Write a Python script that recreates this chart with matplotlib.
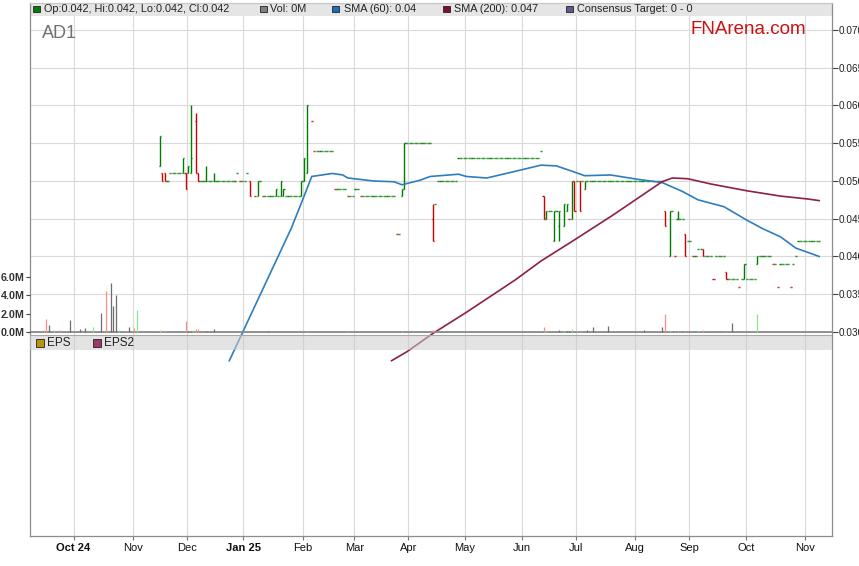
import numpy as np
import matplotlib
matplotlib.use("Agg")
import matplotlib.pyplot as plt
from matplotlib.collections import LineCollection
from matplotlib.patches import Rectangle

plt.rcParams['font.family'] = ['Liberation Sans', 'DejaVu Sans']

# ---- AD1 daily bars (x axis counts weekdays) ----
bar_dates = ['2024-11-15', '2024-11-18', '2024-11-19', '2024-11-28', '2024-11-29', '2024-12-02',
             '2024-12-03', '2024-12-05', '2024-12-06', '2024-12-11', '2024-12-16', '2025-01-03',
             '2025-01-08', '2025-01-17', '2025-01-21', '2025-01-22', '2025-01-31', '2025-02-03',
             '2025-02-04', '2025-03-27', '2025-03-28', '2025-04-14', '2025-06-12', '2025-06-13',
             '2025-06-18', '2025-06-20', '2025-06-24', '2025-06-25', '2025-06-27', '2025-06-30',
             '2025-07-02', '2025-07-04', '2025-08-18', '2025-08-20', '2025-08-25', '2025-08-28',
             '2025-09-08', '2025-09-19', '2025-09-30', '2025-10-07']
bar_open = [.052, .051, .051, .051, .051, .051, .051, .058, .051, .050, .050, .050,
            .048, .048, .048, .048, .048, .050, .051, .048, .049, .045, .048, .045,
            .042, .044, .044, .046, .045, .050, .050, .049, .046, .040, .045, .043,
            .041, .038, .037, .039]
bar_high = [.056, .051, .051, .053, .051, .052, .060, .059, .051, .052, .051, .050,
            .050, .049, .050, .049, .050, .053, .060, .049, .055, .047, .048, .046,
            .046, .046, .047, .047, .050, .050, .050, .050, .046, .046, .046, .043,
            .041, .038, .039, .040]
bar_low = [.052, .050, .050, .051, .049, .051, .051, .051, .050, .050, .050, .048,
           .048, .048, .048, .048, .048, .050, .051, .048, .049, .042, .045, .045,
           .042, .042, .044, .046, .045, .046, .046, .049, .044, .040, .045, .040,
           .040, .037, .037, .039]
bar_close = [.056, .050, .050, .053, .049, .052, .053, .051, .050, .050, .050, .048,
             .050, .049, .050, .049, .050, .053, .060, .049, .055, .042, .045, .046,
             .046, .046, .047, .047, .050, .046, .046, .050, .044, .046, .045, .040,
             .040, .037, .039, .040]
bar_up = [1, 0, 0, 1, 0, 1, 1, 0, 0, 1, 1, 0,
          1, 1, 1, 1, 1, 1, 1, 1, 1, 0, 0, 1,
          1, 1, 1, 1, 1, 0, 0, 1, 0, 1, 1, 0,
          0, 0, 1, 1]

# single days with no range (open = high = low = close)
flat_dates = ['2024-11-20', '2024-12-27', '2024-12-30', '2025-01-02', '2025-01-07', '2025-01-09',
              '2025-01-10', '2025-02-06', '2025-02-07', '2025-02-19', '2025-02-26', '2025-03-05',
              '2025-03-25', '2025-03-26', '2025-04-15', '2025-06-11', '2025-06-19', '2025-06-26',
              '2025-07-01', '2025-07-03', '2025-08-21', '2025-08-22', '2025-09-02', '2025-09-03',
              '2025-09-12', '2025-09-26', '2025-10-15', '2025-10-17', '2025-10-24', '2025-10-28']
flat_price = [.050, .051, .050, .051, .048, .050, .048, .058, .054, .049, .048, .048,
              .043, .043, .047, .054, .046, .045, .050, .050, .046, .040, .040, .040,
              .037, .036, .039, .036, .036, .040]
flat_up = [1, 1, 0, 1, 0, 1, 0, 0, 0, 0, 0, 0,
           0, 1, 1, 1, 1, 0, 1, 1, 1, 0, 0, 1,
           0, 0, 0, 0, 0, 1]

# stretches of unchanged price
run_start = ['2024-11-21', '2024-12-09', '2024-12-31', '2025-01-13', '2025-01-20', '2025-01-23',
             '2025-02-10', '2025-02-20', '2025-02-27', '2025-03-03', '2025-03-06', '2025-03-31',
             '2025-04-16', '2025-04-28', '2025-06-16', '2025-07-07', '2025-08-26', '2025-08-29',
             '2025-09-04', '2025-09-09', '2025-09-22', '2025-10-01', '2025-10-08', '2025-10-16',
             '2025-10-29']
run_end = ['2024-11-27', '2024-12-26', '2025-01-01', '2025-01-16', '2025-01-20', '2025-01-30',
           '2025-02-18', '2025-02-25', '2025-02-28', '2025-03-04', '2025-03-24', '2025-04-11',
           '2025-04-25', '2025-06-10', '2025-06-17', '2025-08-15', '2025-08-27', '2025-09-01',
           '2025-09-05', '2025-09-18', '2025-09-29', '2025-10-06', '2025-10-14', '2025-10-27',
           '2025-11-10']
run_price = [.051, .050, .050, .048, .048, .048, .054, .049, .048, .049, .048, .055,
             .050, .053, .046, .050, .045, .042, .041, .040, .037, .037, .040, .039,
             .042]

# volume (millions); kind: u = up, d = down, n = unchanged
vol_dates = ['2024-09-13', '2024-09-16', '2024-09-17', '2024-09-19', '2024-09-23', '2024-09-27',
             '2024-10-03', '2024-10-07', '2024-10-10', '2024-10-15', '2024-10-17', '2024-10-21',
             '2024-10-22', '2024-10-23', '2024-10-24', '2024-10-29', '2024-10-30', '2024-11-01',
             '2024-11-04', '2024-11-15', '2024-11-18', '2024-11-19', '2024-11-29', '2024-12-02',
             '2024-12-03', '2024-12-04', '2024-12-05', '2024-12-06', '2024-12-11', '2024-12-16',
             '2025-01-14', '2025-02-04', '2025-02-26', '2025-03-27', '2025-04-14', '2025-06-12',
             '2025-06-13', '2025-06-20', '2025-06-24', '2025-06-25', '2025-06-26', '2025-06-27',
             '2025-07-01', '2025-07-02', '2025-07-07', '2025-07-09', '2025-07-17', '2025-08-06',
             '2025-08-15', '2025-08-18', '2025-08-20', '2025-08-22', '2025-08-25', '2025-08-28',
             '2025-09-04', '2025-09-08', '2025-09-19', '2025-09-23', '2025-10-07']
vol_m = [0.2, 1.4, 0.75, 0.2, 0.2, 1.3, 0.3, 0.4, 0.5, 2.1, 4.5, 5.3,
         2.8, 4.0, 0.25, 0.15, 0.55, 0.45, 2.35, 0.2, 0.1, 0.1, 1.2, 0.1,
         0.15, 0.25, 0.35, 0.35, 0.15, 0.3, 0.15, 0.15, 0.15, 0.15, 0.25, 0.57,
         0.15, 0.25, 0.15, 0.15, 0.15, 0.35, 0.1, 0.1, 0.25, 0.57, 0.68, 0.25,
         0.57, 2.0, 0.1, 0.1, 0.1, 0.1, 0.1, 0.25, 0.1, 1.0, 1.9]
vol_kind = ['d', 'd', 'n', 'u', 'd', 'n', 'n', 'n', 'u', 'n', 'd', 'n',
            'n', 'n', 'u', 'd', 'n', 'd', 'u', 'u', 'd', 'd', 'd', 'n',
            'n', 'u', 'd', 'd', 'n', 'n', 'n', 'u', 'd', 'u', 'd', 'd',
            'u', 'n', 'u', 'n', 'n', 'u', 'u', 'd', 'n', 'n', 'n', 'n',
            'n', 'd', 'u', 'd', 'u', 'd', 'u', 'd', 'd', 'n', 'u']

sma60_dates = ['2024-12-24', '2025-01-27', '2025-01-31', '2025-02-06', '2025-02-18', '2025-02-24',
               '2025-02-26', '2025-03-12', '2025-03-24', '2025-03-27', '2025-04-07', '2025-04-11',
               '2025-04-28', '2025-05-01', '2025-05-13', '2025-05-27', '2025-06-11', '2025-06-19',
               '2025-06-27', '2025-07-04', '2025-07-18', '2025-08-04', '2025-08-15', '2025-08-27',
               '2025-09-04', '2025-09-18', '2025-10-01', '2025-10-09', '2025-10-20', '2025-10-28',
               '2025-11-04', '2025-11-10']
sma60 = [0.0262, 0.0437, 0.0471, 0.0506, 0.0510, 0.0508, 0.0504, 0.0500, 0.0499, 0.0495,
         0.0501, 0.0506, 0.0509, 0.0506, 0.0504, 0.0512, 0.0521, 0.0520, 0.0513, 0.0507,
         0.0508, 0.0502, 0.0498, 0.0486, 0.0475, 0.0466, 0.0448, 0.0437, 0.0426, 0.0411,
         0.0405, 0.0400]
sma200_dates = ['2025-03-21', '2025-03-31', '2025-04-14', '2025-05-01', '2025-05-28', '2025-06-11',
                '2025-06-30', '2025-07-21', '2025-08-15', '2025-08-21', '2025-08-29', '2025-09-11',
                '2025-10-01', '2025-10-20', '2025-11-04', '2025-11-10']
sma200 = [0.0262, 0.0274, 0.0298, 0.0326, 0.0369, 0.0394, 0.0422, 0.0455, 0.0499, 0.0504,
          0.0503, 0.0496, 0.0487, 0.0480, 0.0476, 0.0474]

price_ticks = [0.030, 0.035, 0.040, 0.045, 0.050, 0.055, 0.060, 0.065, 0.070]
vol_ticks = [0, 2, 4, 6]
month_dates = ['2024-10-01', '2024-11-01', '2024-12-02', '2025-01-01', '2025-02-03', '2025-03-03',
               '2025-04-01', '2025-05-01', '2025-06-02', '2025-07-01', '2025-08-01', '2025-09-01',
               '2025-10-01', '2025-11-03']
month_labels = ['Oct 24', 'Nov', 'Dec', 'Jan 25', 'Feb', 'Mar', 'Apr', 'May', 'Jun', 'Jul',
                'Aug', 'Sep', 'Oct', 'Nov']

GREEN, RED = '#007d00', '#d00000'
VOLCOL = {'u': '#86e886', 'd': '#ff8c8c', 'n': '#6e6e6e'}


def slot(dates):
    # weekday index counted from 1 Oct 2024
    return np.busday_count('2024-10-01', np.array(dates, dtype='datetime64[D]'))


# ---- layout in pixels ----
W, H = 859, 566
L, R, T, B = 30, 832, 3, 536
DAY_PX = 2.5757          # pixels per weekday
X_OCT = 73.5             # pixel of 1 Oct 2024
P_PX = 7550.0            # pixels per price unit
V_PX = 55.3 / 6          # pixels per million shares
BASE_Y = 332             # pixel row of 0.030 / 0.0M

fig = plt.figure(figsize=(W / 100, H / 100), dpi=100)
ax = fig.add_axes([L / W, 1 - B / H, (R - L) / W, (B - T) / H])
ax.set_xlim((L - X_OCT) / DAY_PX, (R - X_OCT) / DAY_PX)
ax.set_ylim(0.030 - (B - BASE_Y) / P_PX, 0.030 + (BASE_Y - T) / P_PX)


def fy(y):
    return (B - y) / (B - T)


# grid
ax.set_axisbelow(True)
ax.grid(True, color='#d9d9d9', lw=0.8)
ax.set_xticks(slot(month_dates))
ax.set_xticklabels(month_labels)
for lbl in ax.get_xticklabels():
    if lbl.get_text() in ('Oct 24', 'Jan 25'):
        lbl.set_fontweight('bold')
ax.tick_params(axis='x', length=3, color='#777777', labelsize=8, pad=2, labelcolor='#111111')
ax.yaxis.tick_right()
ax.set_yticks(price_ticks)
ax.set_yticklabels(['%.3f' % v for v in price_ticks])
ax.tick_params(axis='y', length=4, color='#444444', labelsize=7.2, pad=1, labelcolor='#222222')
for s in ax.spines.values():
    s.set_color('#8c8c8c')
    s.set_linewidth(0.9)
ax.spines['top'].set_color('#c8c8c8')

# ---- OHLC bars ----
TICK = 0.42
segs, cols = [], []


def add_bar(x, o, h, lo, c, up):
    col = GREEN if up else RED
    if h > lo:
        segs.append([(x, lo), (x, h)])
        cols.append(col)
    segs.append([(x - TICK, o), (x, o)])
    cols.append(col)
    segs.append([(x, c), (x + TICK, c)])
    cols.append(col)


for x, o, h, lo, c, up in zip(slot(bar_dates) + 0.5, bar_open, bar_high, bar_low, bar_close, bar_up):
    add_bar(x, o, h, lo, c, up)
for x, p, up in zip(slot(flat_dates) + 0.5, flat_price, flat_up):
    add_bar(x, p, p, p, p, up)
taken = set(bar_dates) | set(flat_dates)
for s, e, p in zip(run_start, run_end, run_price):
    days = np.arange(np.datetime64(s), np.datetime64(e) + np.timedelta64(1, 'D'))
    days = [str(d) for d in days if np.is_busday(d) and str(d) not in taken]
    for x in slot(days) + 0.5:
        add_bar(x, p, p, p, p, 1)
ax.add_collection(LineCollection(segs, colors=cols, linewidths=1.0, capstyle='butt', zorder=3))

# ---- moving averages ----
ax.plot(slot(sma60_dates) + 0.5, sma60, color='#2f7dbd', lw=1.2, zorder=4, clip_on=False)
ax.plot(slot(sma200_dates) + 0.5, sma200, color='#8e1f47', lw=1.2, zorder=4, clip_on=False)

# ---- panel strips ----
ax.add_patch(Rectangle((0, fy(16)), 1, fy(3) - fy(16), transform=ax.transAxes,
                       fc='#e5e5e5', ec='none', zorder=2))
ax.add_patch(Rectangle((0, fy(350)), 1, fy(335) - fy(350), transform=ax.transAxes,
                       fc='#cccccc', ec='none', alpha=0.55, zorder=6))
ax.plot([0, 1], [fy(332), fy(332)], transform=ax.transAxes, color='#8a8a8a', lw=1.3, zorder=6)
ax.plot([0, 1], [fy(335), fy(335)], transform=ax.transAxes, color='#a8a8a8', lw=0.8, zorder=6)

# ---- volume ----
axv = fig.add_axes(ax.get_position(), sharex=ax)
axv.patch.set_visible(False)
axv.set_ylim(-(B - BASE_Y) / V_PX, (BASE_Y - T) / V_PX)
axv.vlines(slot(vol_dates) + 0.5, 0, vol_m, colors=[VOLCOL[k] for k in vol_kind], lw=0.9, zorder=2)
axv.yaxis.tick_left()
axv.set_yticks(vol_ticks)
axv.set_yticklabels(['%.1fM' % v for v in vol_ticks], fontweight='bold')
axv.tick_params(axis='y', length=3, color='#444444', labelsize=7.7, pad=1, labelcolor='#333333')
axv.tick_params(axis='x', bottom=False, labelbottom=False)
for s in axv.spines.values():
    s.set_visible(False)


# ---- legends and titles (pixel positions) ----
def ftext(x, y, s, **kw):
    fig.text(x / W, 1 - y / H, s, **kw)


def fsquare(x, y, size, color):
    fig.patches.append(Rectangle((x / W, 1 - (y + size) / H), size / W, size / H,
                                 transform=fig.transFigure, fc=color, ec='#222222', lw=0.6))


top_items = [(33, 43.5, '#008000', 'Op:0.042, Hi:0.042, Lo:0.042, Cl:0.042'),
             (260, 270.5, '#808080', 'Vol: 0M'),
             (332, 344, '#1f6fb4', 'SMA (60): 0.04'),
             (443, 454, '#7a1030', 'SMA (200): 0.047'),
             (566, 577, '#5c5c8c', 'Consensus Target: 0 - 0')]
for sx, tx, c, s in top_items:
    fsquare(sx, 5.5, 6.5, c)
    ftext(tx, 9.5, s, fontsize=7.8, va='center', ha='left', color='#222222')

fsquare(36, 339, 7.5, '#b8960b')
ftext(47, 343, 'EPS', fontsize=8.5, va='center', color='#222222')
fsquare(93, 339, 7.5, '#9a3a6c')
ftext(104, 343, 'EPS2', fontsize=8.5, va='center', color='#222222')

ftext(41.5, 38, 'AD1', fontsize=13, color='#707070', va='baseline')
ftext(690, 33.5, 'FNArena.com', fontsize=13.5, color='#cc1111', va='baseline')

fig.savefig('out.png', dpi=100)
